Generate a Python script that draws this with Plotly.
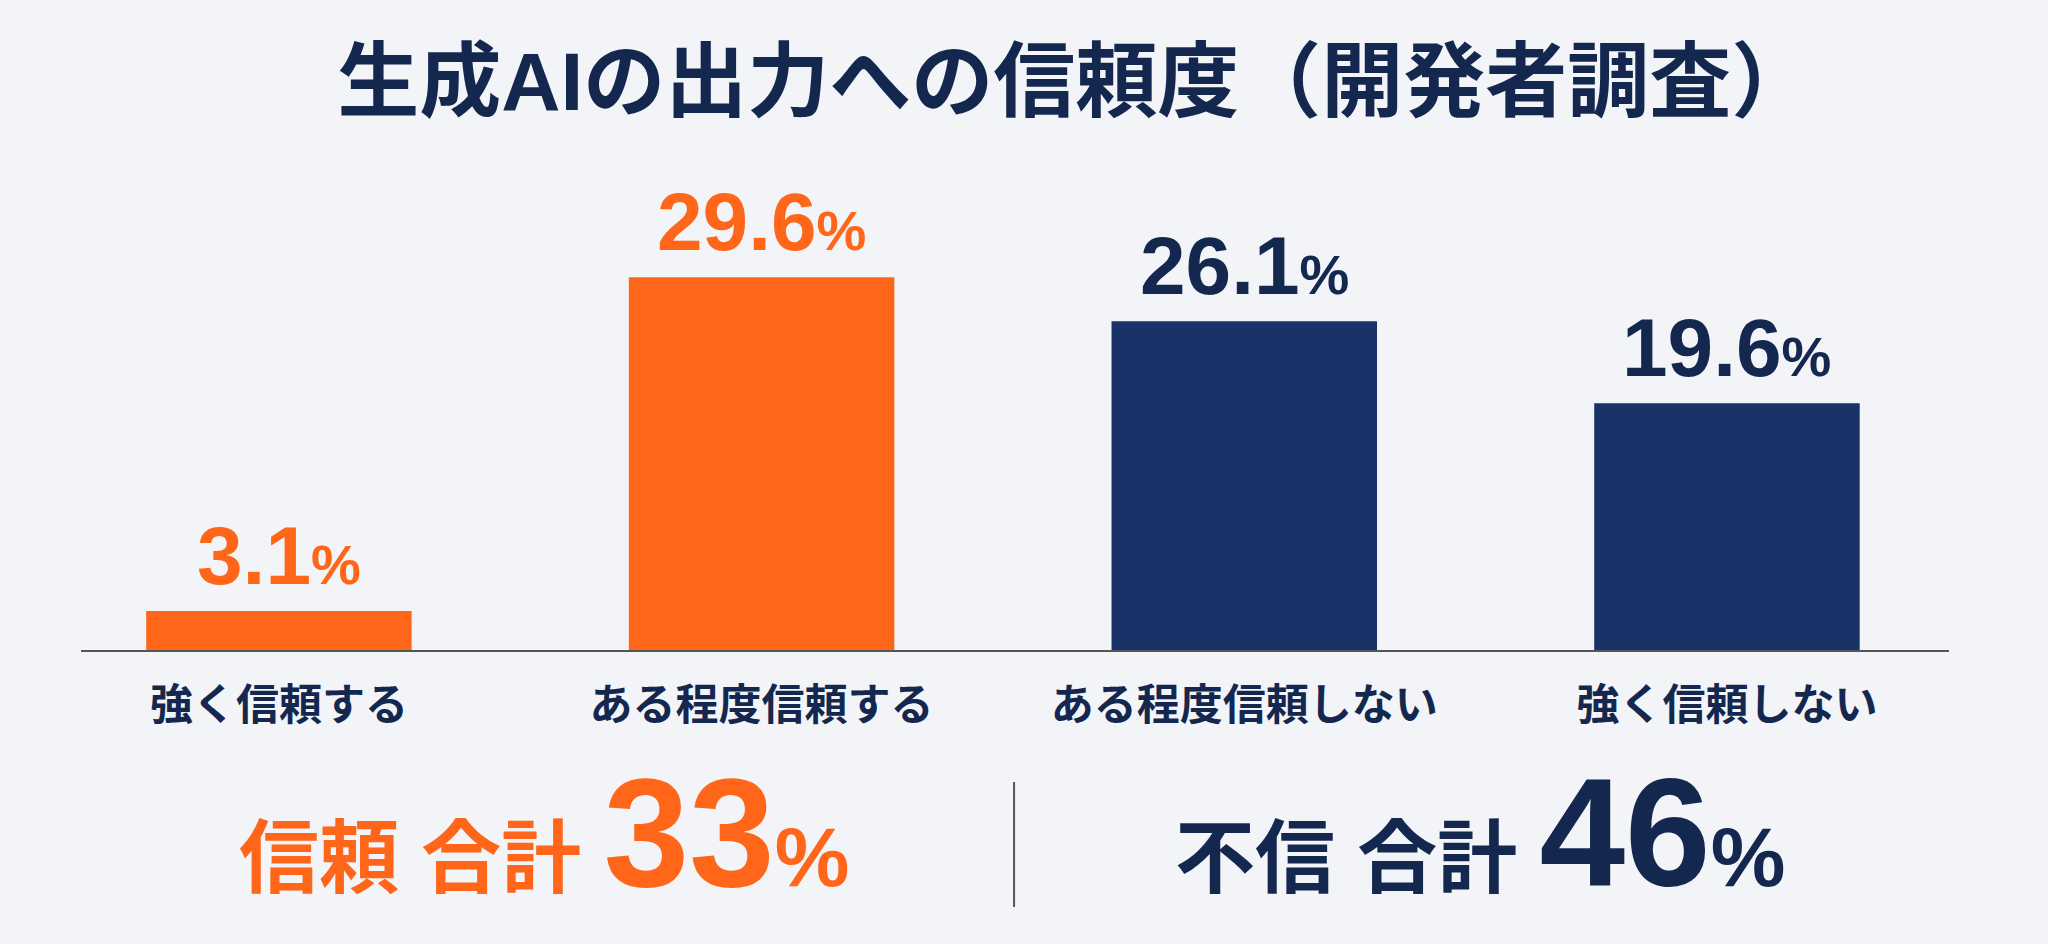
import plotly.graph_objects as go

# survey data
categories = ["強く信頼する", "ある程度信頼する", "ある程度信頼しない", "強く信頼しない"]
values = [3.1, 29.6, 26.1, 19.6]
groups = ["信頼", "信頼", "不信", "不信"]

summary_labels = ["信頼 合計", "不信 合計"]
summary_values = [33, 46]

title_text = "生成AIの出力への信頼度（開発者調査）"

ORANGE = "#FF661A"
NAVY_BAR = "#173368"
NAVY_TEXT = "#14284F"
BG = "#F3F4F7"
FONT = "Liberation Sans, Noto Sans CJK JP, sans-serif"

group_color = {"信頼": ORANGE, "不信": NAVY_BAR}
label_color = {"信頼": ORANGE, "不信": NAVY_TEXT}

fig = go.Figure()
fig.add_trace(go.Bar(
    x=list(range(len(categories))),
    y=values,
    width=0.55,
    marker=dict(color=[group_color[g] for g in groups], line=dict(width=0)),
    hoverinfo="skip",
))

# value labels above bars
for i, (v, g) in enumerate(zip(values, groups)):
    fig.add_annotation(
        x=i, y=v, xref="x", yref="y",
        text=f"{v:.1f}<span style='font-size:56px'>%</span>",
        showarrow=False, yanchor="bottom", yshift=8,
        font=dict(family=FONT, size=82, color=label_color[g], weight="bold"),
    )

# summary totals under the chart
for j, (lab, val) in enumerate(zip(summary_labels, summary_values)):
    g = groups[0] if j == 0 else groups[-1]
    fig.add_annotation(
        x=[0.248, 0.749][j], y=-0.365, xref="paper", yref="paper",
        text=f"{lab} <span style='font-size:154px'>{val}</span><span style='font-size:84px'>%</span>",
        showarrow=False, xanchor="center", yanchor="middle",
        font=dict(family=FONT, size=80, color=label_color[g], weight="bold"),
    )

fig.add_shape(type="line", xref="paper", yref="paper",
              x0=0.4995, x1=0.4995, y0=-0.264, y1=-0.514,
              line=dict(color="#555555", width=2))

fig.update_layout(
    width=2048, height=944,
    paper_bgcolor=BG, plot_bgcolor=BG,
    margin=dict(l=81, r=99, t=150, b=294),
    showlegend=False,
    bargap=0.45,
    title=dict(text=title_text, x=0.525, xref="container", xanchor="center",
               y=0.914, yref="container", yanchor="middle",
               font=dict(family=FONT, size=82, color=NAVY_TEXT, weight="bold")),
    xaxis=dict(
        range=[-0.41, 3.46],
        tickmode="array", tickvals=list(range(len(categories))), ticktext=categories,
        tickfont=dict(family=FONT, size=43, color=NAVY_TEXT, weight="bold"),
        ticklabelstandoff=16,
        showline=True, linecolor="#555555", linewidth=2,
        showgrid=False, zeroline=False, ticks="",
    ),
    yaxis=dict(range=[0, 39.7], visible=False, showgrid=False, zeroline=False),
)

fig.write_html("out.html", config={"displayModeBar": False},
               post_script="document.body.style.margin='0';")
